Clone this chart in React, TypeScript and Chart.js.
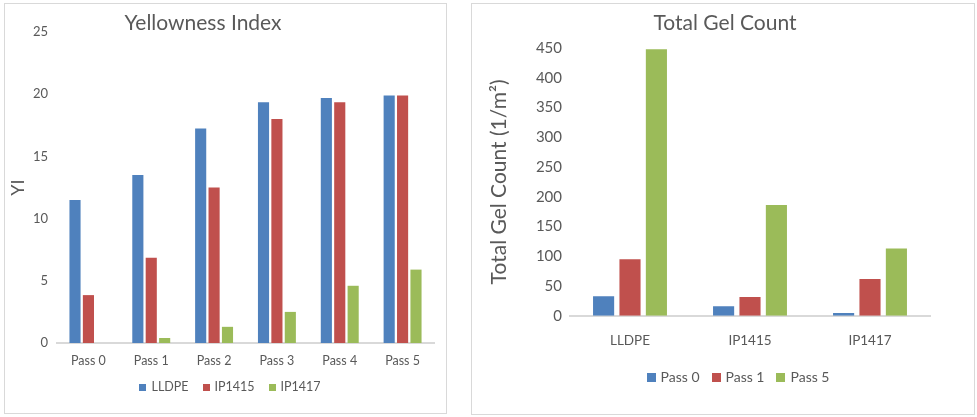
import React, { useEffect, useRef } from "react";
import { Chart, registerables } from "chart.js";

Chart.register(...registerables);

// Yellowness Index data
const yiPasses = ["Pass 0", "Pass 1", "Pass 2", "Pass 3", "Pass 4", "Pass 5"];
const yiLLDPE = [11.5, 13.5, 17.25, 19.35, 19.7, 19.9];
const yiIP1415 = [3.85, 6.85, 12.5, 18.0, 19.35, 19.9];
const yiIP1417 = [0, 0.4, 1.3, 2.5, 4.6, 5.9];

// Total Gel Count data
const gelMaterials = ["LLDPE", "IP1415", "IP1417"];
const gelPass0 = [33, 16, 4.5];
const gelPass1 = [95, 31.5, 62];
const gelPass5 = [448, 186, 113];

const BLUE = "#4F81BD";
const RED = "#C0504D";
const GREEN = "#9BBB59";
const TEXT = "#595959";
const AXIS = "#D9D9D9";
const FONT = "Lato, 'Open Sans', sans-serif";

type DecorOptions = {
  title: string;
  titleX: number;
  titleY: number;
  titleSize: number;
  legendX: number;
  legendY: number;
  legendSize: number;
  box: number;
  boxGap: number;
  itemGap: number;
};

// Draws the chart heading and a centred legend row at chosen positions.
function makeDecor(o: DecorOptions) {
  return {
    id: "decor",
    afterDraw(chart: Chart) {
      const ctx = chart.ctx;
      ctx.save();
      ctx.fillStyle = TEXT;
      ctx.textAlign = "center";
      ctx.textBaseline = "middle";
      ctx.font = `${o.titleSize}px ${FONT}`;
      ctx.fillText(o.title, o.titleX, o.titleY);

      ctx.font = `${o.legendSize}px ${FONT}`;
      const items = chart.data.datasets.map((d) => ({
        label: String(d.label),
        color: String(d.backgroundColor),
        w: ctx.measureText(String(d.label)).width,
      }));
      const total =
        items.reduce((s, it) => s + o.box + o.boxGap + it.w, 0) +
        o.itemGap * (items.length - 1);
      let x = o.legendX - total / 2;
      ctx.textAlign = "left";
      for (const it of items) {
        ctx.fillStyle = it.color;
        ctx.fillRect(Math.round(x), Math.round(o.legendY - o.box / 2), o.box, o.box);
        x += o.box + o.boxGap;
        ctx.fillStyle = TEXT;
        ctx.fillText(it.label, x, o.legendY);
        x += it.w + o.itemGap;
      }
      ctx.restore();
    },
  };
}

type PanelProps = {
  width: number;
  height: number;
  build: (canvas: HTMLCanvasElement) => Chart;
};

function Panel({ width, height, build }: PanelProps) {
  const ref = useRef<HTMLCanvasElement | null>(null);
  useEffect(() => {
    if (!ref.current) return;
    const chart = build(ref.current);
    return () => chart.destroy();
  }, [build]);
  return (
    <div style={{ width, height, position: "relative" }}>
      <canvas ref={ref} />
    </div>
  );
}

function buildYellowness(canvas: HTMLCanvasElement): Chart {
  return new Chart(canvas, {
    type: "bar",
    data: {
      labels: yiPasses,
      datasets: [
        { label: "LLDPE", data: yiLLDPE, backgroundColor: BLUE },
        { label: "IP1415", data: yiIP1415, backgroundColor: RED },
        { label: "IP1417", data: yiIP1417, backgroundColor: GREEN },
      ],
    },
    options: {
      animation: false,
      responsive: true,
      maintainAspectRatio: false,
      layout: { padding: { left: 0, right: 12, top: 28, bottom: 35 } },
      datasets: { bar: { categoryPercentage: 0.64, barPercentage: 0.83 } },
      plugins: {
        title: { display: false },
        legend: { display: false },
        tooltip: { enabled: false },
      },
      scales: {
        x: {
          grid: { display: false, drawTicks: false, tickLength: 0 },
          border: { color: AXIS, width: 2 },
          ticks: { color: TEXT, font: { family: FONT, size: 12.5 }, padding: 10 },
        },
        y: {
          min: 0,
          max: 25,
          grid: { display: false, drawTicks: false, tickLength: 0 },
          border: { display: false },
          ticks: { stepSize: 5, color: TEXT, font: { family: FONT, size: 13 }, padding: 9 },
          title: {
            display: true,
            text: "YI",
            color: TEXT,
            font: { family: FONT, size: 18 },
            padding: { top: 2, bottom: 0 },
          },
          afterFit: (scale: any) => {
            scale.width = 52;
          },
        },
      },
    },
    plugins: [
      makeDecor({
        title: "Yellowness Index",
        titleX: 198,
        titleY: 19,
        titleSize: 21,
        legendX: 225,
        legendY: 383,
        legendSize: 12.5,
        box: 7,
        boxGap: 5,
        itemGap: 14,
      }),
    ],
  });
}

function buildGel(canvas: HTMLCanvasElement): Chart {
  return new Chart(canvas, {
    type: "bar",
    data: {
      labels: gelMaterials,
      datasets: [
        { label: "Pass 0", data: gelPass0, backgroundColor: BLUE },
        { label: "Pass 1", data: gelPass1, backgroundColor: RED },
        { label: "Pass 5", data: gelPass5, backgroundColor: GREEN },
      ],
    },
    options: {
      animation: false,
      responsive: true,
      maintainAspectRatio: false,
      layout: { padding: { left: 0, right: 44, top: 44, bottom: 48 } },
      datasets: { bar: { categoryPercentage: 0.66, barPercentage: 0.8 } },
      plugins: {
        title: { display: false },
        legend: { display: false },
        tooltip: { enabled: false },
      },
      scales: {
        x: {
          grid: { display: false, drawTicks: false, tickLength: 0 },
          border: { color: AXIS, width: 2 },
          ticks: { color: TEXT, font: { family: FONT, size: 13.5 }, padding: 17 },
        },
        y: {
          min: 0,
          max: 450,
          grid: { display: false, drawTicks: false, tickLength: 0 },
          border: { display: false },
          ticks: { stepSize: 50, color: TEXT, font: { family: FONT, size: 15 }, padding: 8 },
          title: {
            display: true,
            text: "Total Gel Count (1/m²)",
            color: TEXT,
            font: { family: FONT, size: 21 },
            padding: { top: 15, bottom: 0 },
          },
          afterFit: (scale: any) => {
            scale.width = 98;
          },
        },
      },
    },
    plugins: [
      makeDecor({
        title: "Total Gel Count",
        titleX: 253,
        titleY: 19,
        titleSize: 21,
        legendX: 266,
        legendY: 373,
        legendSize: 14,
        box: 9,
        boxGap: 5,
        itemGap: 12,
      }),
    ],
  });
}

export default function App() {
  return (
    <div
      style={{
        position: "absolute",
        left: 0,
        top: 0,
        width: 977,
        height: 417,
        background: "#fff",
        fontFamily: FONT,
      }}
    >
      <div
        style={{
          position: "absolute",
          left: 4,
          top: 3,
          width: 441,
          height: 409,
          border: "1px solid #D9D9D9",
          background: "#fff",
        }}
      >
        <Panel width={441} height={409} build={buildYellowness} />
      </div>
      <div
        style={{
          position: "absolute",
          left: 471,
          top: 3,
          width: 502,
          height: 410,
          border: "1px solid #D9D9D9",
          background: "#fff",
        }}
      >
        <Panel width={502} height={410} build={buildGel} />
      </div>
    </div>
  );
}
